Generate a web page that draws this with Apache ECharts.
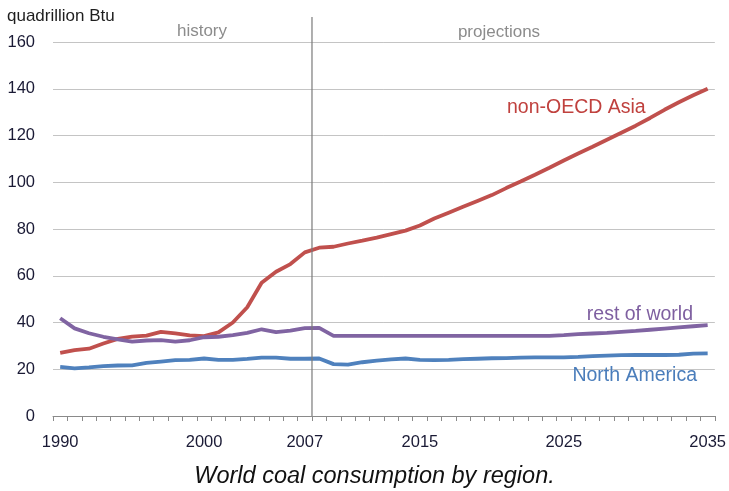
<!DOCTYPE html>
<html><head><meta charset="utf-8">
<script src="https://cdn.jsdelivr.net/npm/echarts@6/dist/echarts.min.js"></script>
<style>html,body{margin:0;padding:0;background:#fff}#c{width:729px;height:491px}</style>
</head><body><div id="c"></div>
<script>
const years = ['1990','1991','1992','1993','1994','1995','1996','1997','1998','1999',
  '2000','2001','2002','2003','2004','2005','2006','2007','2008','2009',
  '2010','2011','2012','2013','2014','2015','2016','2017','2018','2019',
  '2020','2021','2022','2023','2024','2025','2026','2027','2028','2029',
  '2030','2031','2032','2033','2034','2035'];
const xTickLabels = ['1990','2000','2007','2015','2025','2035'];
const historyEndYear = '2007';
const nonOecdAsia = [27,28.2,28.8,31,33,34,34.4,36,35.3,34.5,
  34.2,35.8,40,46.5,57,61.7,65,70,72,72.4,
  73.8,75,76.3,77.8,79.3,81.5,84.5,87,89.5,92,
  94.5,97.5,100.3,103.2,106.2,109.3,112.3,115.2,118.2,121.2,
  124.2,127.5,131,134.2,137.2,140];
const restOfWorld = [41.8,37.5,35.4,33.9,32.8,31.8,32.3,32.5,31.8,32.4,
  33.7,33.9,34.6,35.6,37.1,35.9,36.5,37.6,37.7,34.3,
  34.3,34.3,34.3,34.3,34.3,34.3,34.3,34.3,34.3,34.3,
  34.3,34.3,34.3,34.3,34.3,34.6,35,35.3,35.6,36,
  36.4,36.9,37.4,37.9,38.4,38.9];
const northAmerica = [21,20.4,20.8,21.3,21.6,21.7,22.7,23.3,23.9,24,
  24.6,24,24,24.4,25,25,24.5,24.5,24.6,22.2,
  22,23,23.7,24.2,24.6,24,23.9,24,24.3,24.5,
  24.7,24.8,25,25.1,25.1,25.1,25.3,25.6,25.8,26,
  26.1,26.1,26.1,26.2,26.7,26.8];
const yMin = 0, yMax = 160, yStep = 20;

const FONT = '"Liberation Sans", Arial, sans-serif';
const RED = '#c0504d', PURPLE = '#8064a2', BLUE = '#4f81bd';
const chart = echarts.init(document.getElementById('c'), null, {renderer:'canvas'});
const lineSeries = (name, data, color) => ({
  name, type:'line', data, symbol:'none', smooth:false,
  lineStyle:{color, width:3.8}, itemStyle:{color}, z:3
});
chart.setOption({
  animation:false,
  backgroundColor:'#fff',
  grid:{left:53, right:13, top:42, bottom:75},
  xAxis:{
    type:'category', data:years, boundaryGap:true,
    axisLine:{show:true, lineStyle:{color:'#8a8a8a', width:1}},
    axisTick:{show:true, interval:0, length:5, lineStyle:{color:'#8a8a8a'}},
    axisLabel:{interval:(i, v) => xTickLabels.includes(v), margin:18,
      fontFamily:FONT, fontSize:16.5, color:'#1a1a35'},
    splitLine:{show:false}
  },
  yAxis:{
    type:'value', min:yMin, max:yMax, interval:yStep,
    axisLine:{show:false}, axisTick:{show:false},
    axisLabel:{margin:18, fontFamily:FONT, fontSize:16.5, color:'#1a1a35'},
    splitLine:{lineStyle:{color:'#c4c4c4', width:1}}
  },
  series:[
    lineSeries('non-OECD Asia', nonOecdAsia, RED),
    lineSeries('rest of world', restOfWorld, PURPLE),
    lineSeries('North America', northAmerica, BLUE)
  ]
});

const xa = chart.convertToPixel({xAxisIndex:0}, historyEndYear);
const xb = chart.convertToPixel({xAxisIndex:0}, years[years.indexOf(historyEndYear)+1]);
const xLine = (xa + xb) / 2;
const y0 = chart.convertToPixel({yAxisIndex:0}, 0);
const txt = (x, y, text, size, color, align, extra) => Object.assign({
  type:'text', x, y, z:10,
  style:{text, fontFamily:FONT, fontSize:size, fill:color, align, verticalAlign:'middle'}
}, extra || {});
chart.setOption({
  graphic:[
    {type:'line', z:5, shape:{x1:xLine, y1:17, x2:xLine, y2:y0},
      style:{stroke:'#7a7a7a', lineWidth:1.2}},
    txt(7, 16.5, 'quadrillion Btu', 17, '#1e1e1e', 'left'),
    txt(202, 31.5, 'history', 17, '#8c8c8c', 'center'),
    txt(499, 32, 'projections', 17, '#8c8c8c', 'center'),
    txt(507, 108, 'non-OECD Asia', 19.5, '#c0413e', 'left'),
    txt(693, 315, 'rest of world', 19.5, '#7e5fa0', 'right'),
    txt(697, 376, 'North America', 19.5, '#4a7dbb', 'right'),
    {type:'text', x:374.5, y:476, z:10,
      style:{text:'World coal consumption by region.', fontFamily:FONT, fontSize:23.5,
        fontStyle:'italic', fill:'#111', align:'center', verticalAlign:'middle'}}
  ]
});
</script></body></html>
